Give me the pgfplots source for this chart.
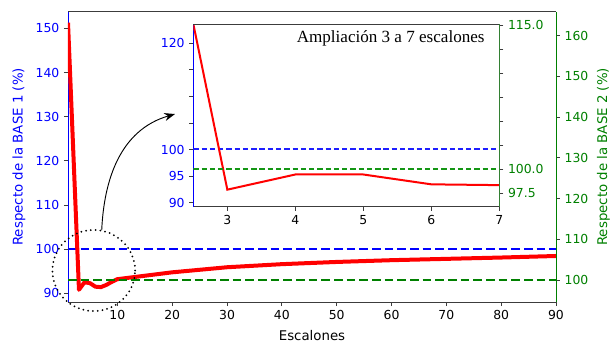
\documentclass[border=0pt]{standalone}
\usepackage{pgfplots}
\pgfplotsset{compat=1.18}
\usepackage{pgfplotstable}
\usepackage{fontspec}
\setmainfont{DejaVu Sans}
\newfontfamily\timesfont{Liberation Serif}
\usetikzlibrary{arrows.meta}
\definecolor{mblue}{RGB}{0,0,255}
\definecolor{lblue}{RGB}{30,30,255}
\definecolor{mgreen}{RGB}{0,128,0}
\definecolor{lgreen}{RGB}{20,150,20}
\definecolor{mred}{RGB}{255,0,0}
\definecolor{spinegray}{RGB}{60,60,60}

\pgfplotstableread{
x y
1 151.3
3 90.8
4 92.5
5 92.3
6 91.5
7 91.4
8 91.9
9 92.6
10 93.2
20 94.75
30 95.9
40 96.6
50 97.1
60 97.5
70 97.8
80 98.1
90 98.45
}\maindata

\pgfplotstableread{
x y
2.5 123.6
3 92.45
4 95.3
5 95.3
6 93.45
7 93.3
}\insetdata

\begin{document}
\begin{tikzpicture}
\useasboundingbox (0,0) rectangle (462pt,258pt);
\pgfplotsset{
  every axis/.append style={
    scale only axis, anchor=south west,
    /pgf/number format/assume math mode=true,
    tick align=outside, major tick length=3pt,
    tick style={spinegray, line width=0.6pt},
    ticklabel style={font=\fontsize{9.3}{11}\selectfont},
    label style={font=\fontsize{9.3}{11}\selectfont},
    clip=true,
  },
}
% ---------------- main, left axis
\begin{axis}[at={(51pt,31.5pt)}, width=366pt, height=217.7pt,
  xmin=1, xmax=90, ymin=88.03, ymax=153.76,
  axis x line*=bottom, axis y line*=left,
  x axis line style={-, spinegray, line width=0.6pt},
  y axis line style={-, mblue, line width=0.6pt},
  xtick={10,20,...,90}, ytick={90,100,...,150},
  yticklabel style={mblue},
  xlabel={Escalones},
  ylabel={Respecto de la BASE 1 (\%)},
  every axis x label/.style={at={(axis description cs:0.5,-0.117)}, anchor=center},
  every axis y label/.style={at={(axis description cs:-0.1004,0.5)}, rotate=90, anchor=center, text=mblue},
]
\addplot[mblue, line width=1.9pt, dash pattern=on 6.5pt off 3pt] coordinates {(1,100) (90,100)};
\addplot[mred, line width=3pt, line join=round] table[x=x,y=y] {\maindata};
\end{axis}
% ---------------- main, right axis
\begin{axis}[at={(51pt,31.5pt)}, width=366pt, height=217.7pt,
  xmin=1, xmax=90, ymin=94.6, ymax=165.9,
  axis x line*=top, axis y line*=right,
  xtick=\empty,
  x axis line style={-, spinegray, line width=0.6pt},
  y axis line style={-, mgreen, line width=0.6pt},
  ytick={100,110,...,160},
  yticklabel style={mgreen},
  ylabel={Respecto de la BASE 2 (\%)},
  every axis y label/.style={at={(axis description cs:1.097,0.5)}, rotate=90, anchor=center, text=mgreen},
]
\addplot[mgreen, line width=1.9pt, dash pattern=on 6.5pt off 3pt] coordinates {(1,100) (90,100)};
\end{axis}
% ---------------- inset, left axis
\begin{axis}[at={(145pt,103pt)}, width=229.5pt, height=137pt,
  xmin=2.5, xmax=7, ymin=89.25, ymax=123.6,
  axis background/.style={fill=white},
  axis x line*=bottom, axis y line*=left,
  x axis line style={-, spinegray, line width=0.6pt},
  y axis line style={-, mblue, line width=0.6pt},
  xtick={3,4,5,6,7},
  ytick={90,95,100,105,110,115,120},
  yticklabels={90,95,100,,,,120},
  yticklabel style={mblue},
]
\addplot[draw=lblue, line width=1.4pt, dash pattern=on 4pt off 2.2pt] coordinates {(2.5,100.05) (7,100.05)};
\addplot[draw=mred, line width=1.5pt] table[x=x,y=y] {\insetdata};
\node[anchor=east, font=\timesfont\fontsize{12.8}{14}\selectfont] at (axis description cs:0.967,0.922) {Ampliación 3 a 7 escalones};
\end{axis}
% ---------------- inset, right axis
\begin{axis}[at={(145pt,103pt)}, width=229.5pt, height=137pt,
  xmin=2.5, xmax=7, ymin=96.1, ymax=115.1,
  axis x line*=top, axis y line*=right,
  xtick=\empty,
  x axis line style={-, spinegray, line width=0.6pt},
  y axis line style={-, mgreen!60!gray, line width=0.6pt},
  ytick={97.5,100,102.5,105,107.5,110,112.5,115},
  yticklabels={97.5,100.0,,,,,,115.0},
  yticklabel style={mgreen},
]
\addplot[draw=lgreen, line width=1.2pt, dash pattern=on 4pt off 2.2pt] coordinates {(2.5,100) (7,100)};
\end{axis}
% ---------------- annotation
\draw[black, line width=1.5pt, line cap=round, dash pattern=on 0pt off 3.6pt] (70.3pt,55.1pt) ellipse [x radius=31pt, y radius=30.4pt];
\draw[black, line width=0.7pt, -{Stealth[length=8pt,width=6pt]}] (76.3pt,85.5pt) .. controls (78pt,123pt) and (90pt,160.5pt) .. (131.25pt,172.5pt);
\end{tikzpicture}
\end{document}
